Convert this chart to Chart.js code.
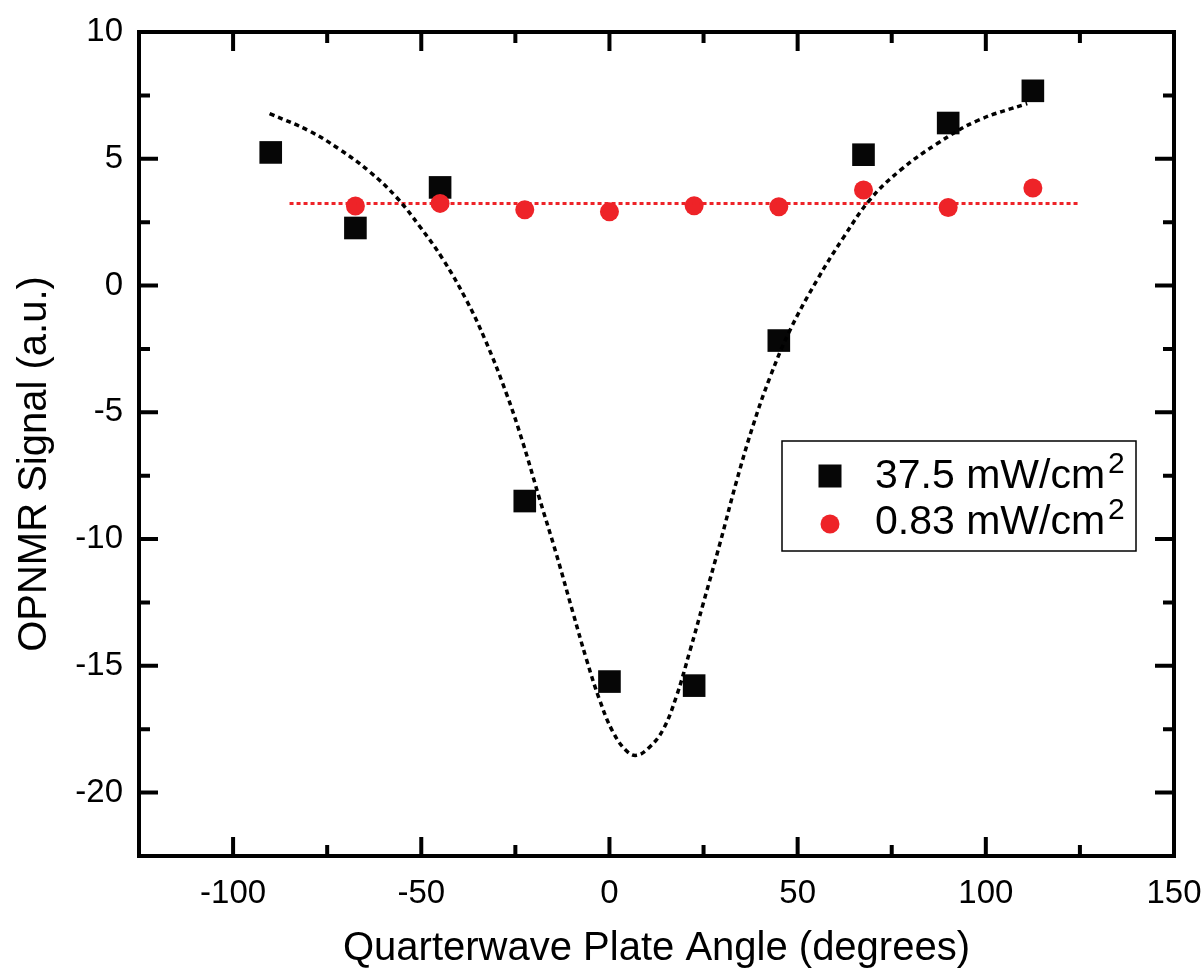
<!DOCTYPE html>
<html>
<head>
<meta charset="utf-8">
<script src="https://cdn.jsdelivr.net/npm/chart.js@4.4.0/dist/chart.umd.min.js"></script>
<style>
  html, body { margin: 0; padding: 0; background: #fff; }
</style>
</head>
<body>
<canvas id="opnmr" width="1203" height="971"></canvas>
<script>
// measured signal, 37.5 mW/cm2 pump
const angles = [-90, -67.5, -45, -22.5, 0, 22.5, 45, 67.5, 90, 112.5];
const signalHigh = [5.25, 2.27, 3.87, -8.5, -15.62, -15.78, -2.17, 5.16, 6.41, 7.68];

// measured signal, 0.83 mW/cm2 pump
const anglesLow = [-67.5, -45, -22.5, 0, 22.5, 45, 67.5, 90, 112.5];
const signalLow = [3.14, 3.24, 2.99, 2.91, 3.15, 3.11, 3.77, 3.08, 3.85];

// fitted curve for the high power data
const fitX = [-90.3, -79.8, -71.8, -63.8, -56.7, -50.5, -44.3, -38.1, -33.0, -27.4, -23.0, -18.6,
  -14.1, -9.7, -6.1, -2.6, 0.9, 4.5, 7.2, 10.7, 14.3, 17.8, 21.4, 24.9, 29.4, 33.8, 38.2, 42.7,
  48.0, 55.1, 62.2, 69.3, 77.3, 87.1, 97.7, 111.0];
const fitY = [6.78, 6.10, 5.38, 4.50, 3.50, 2.35, 1.05, -0.55, -2.15, -4.25, -6.20, -8.40,
  -10.60, -12.90, -14.75, -16.35, -17.60, -18.35, -18.53, -18.20, -17.50, -16.20, -14.40, -12.55, -10.15, -7.70, -5.50, -3.60,
  -1.75, 0.20, 1.90, 3.40, 4.55, 5.60, 6.50, 7.18];

// flat fit for the low power data
const flatX = [-85, 125];
const flatLevel = 3.24;

const xTicks = [-100, -50, 0, 50, 100, 150];
const xMinor = [-75, -25, 25, 75, 125];
const yTicks = [-20, -15, -10, -5, 0, 5, 10];
const yMinor = [-17.5, -12.5, -7.5, -2.5, 2.5, 7.5];

const legendItems = ['37.5 mW/cm', '0.83 mW/cm'];

const FONT = '"Liberation Sans", Arial, Helvetica, sans-serif';
const RED = '#ee2328';
const BLACK = '#060606';

const pts = (xs, ys) => xs.map((x, i) => ({ x: x, y: ys[i] }));

const noPad = s => { s.paddingTop = 0; s.paddingBottom = 0; s.paddingLeft = 0; s.paddingRight = 0; };

// frame with inward ticks on all four sides, axis titles and the boxed legend
const framePlugin = {
  id: 'framePlugin',
  beforeDatasetsDraw(chart) {
    const ctx = chart.ctx;
    const a = chart.chartArea;
    const xs = chart.scales.x, ys = chart.scales.y;
    ctx.save();
    ctx.strokeStyle = '#000';
    ctx.lineWidth = 4;
    ctx.lineCap = 'butt';
    ctx.beginPath();
    ctx.rect(a.left, a.top, a.right - a.left, a.bottom - a.top);
    ctx.stroke();

    const tick = (vals, len, horizontal) => {
      vals.forEach(v => {
        if (horizontal) {
          const px = xs.getPixelForValue(v);
          ctx.moveTo(px, a.bottom); ctx.lineTo(px, a.bottom - len);
          ctx.moveTo(px, a.top); ctx.lineTo(px, a.top + len);
        } else {
          const py = ys.getPixelForValue(v);
          ctx.moveTo(a.left, py); ctx.lineTo(a.left + len, py);
          ctx.moveTo(a.right, py); ctx.lineTo(a.right - len, py);
        }
      });
    };
    ctx.beginPath();
    tick(xTicks.filter(v => v < 150), 19, true);
    tick(xMinor, 11, true);
    tick(yTicks.filter(v => v < 10), 19, false);
    tick(yMinor, 11, false);
    ctx.stroke();
    ctx.restore();
  },
  afterDraw(chart) {
    const ctx = chart.ctx;
    const a = chart.chartArea;
    ctx.save();
    ctx.fillStyle = '#000';
    ctx.font = '40px ' + FONT;

    // axis titles
    ctx.textAlign = 'center';
    ctx.textBaseline = 'alphabetic';
    ctx.fillText('Quarterwave Plate Angle (degrees)', (a.left + a.right) / 2, 960);
    ctx.save();
    ctx.translate(46, 464);
    ctx.rotate(-Math.PI / 2);
    ctx.fillText('OPNMR Signal (a.u.)', 0, 0);
    ctx.restore();

    // legend box
    ctx.strokeStyle = '#000';
    ctx.lineWidth = 1.5;
    ctx.strokeRect(782, 441, 354, 110);

    ctx.fillStyle = BLACK;
    ctx.fillRect(830 - 11.5, 476 - 11.5, 23, 23);
    ctx.fillStyle = RED;
    ctx.beginPath();
    ctx.arc(830, 524, 9.5, 0, Math.PI * 2);
    ctx.fill();

    ctx.fillStyle = '#000';
    ctx.textAlign = 'left';
    const baselines = [488, 534];
    legendItems.forEach((t, i) => {
      ctx.font = '41px ' + FONT;
      ctx.fillText(t, 875, baselines[i]);
      const w = ctx.measureText(t).width;
      ctx.font = '30px ' + FONT;
      ctx.fillText('2', 875 + w + 3, baselines[i] - 15);
    });
    ctx.restore();
  }
};

new Chart(document.getElementById('opnmr'), {
  type: 'scatter',
  data: {
    datasets: [
      {
        label: 'fit',
        type: 'line',
        data: pts(fitX, fitY),
        borderColor: '#000',
        borderWidth: 3.5,
        borderDash: [5, 4],
        pointRadius: 0,
        fill: false,
        tension: 0.4
      },
      {
        label: 'flat fit',
        type: 'line',
        data: pts(flatX, [flatLevel, flatLevel]),
        borderColor: RED,
        borderWidth: 3,
        borderDash: [4, 3],
        pointRadius: 0,
        fill: false
      },
      {
        label: '0.83 mW/cm2',
        data: pts(anglesLow, signalLow),
        pointStyle: 'circle',
        pointRadius: 9.5,
        backgroundColor: RED,
        borderWidth: 0
      },
      {
        label: '37.5 mW/cm2',
        data: pts(angles, signalHigh),
        pointStyle: 'rect',
        pointRadius: 16,
        backgroundColor: BLACK,
        borderWidth: 0
      }
    ]
  },
  options: {
    responsive: false,
    animation: false,
    layout: { padding: { top: 32, right: 29, left: 0, bottom: 0 } },
    plugins: {
      legend: { display: false },
      tooltip: { enabled: false }
    },
    scales: {
      x: {
        type: 'linear',
        min: -125,
        max: 150,
        afterBuildTicks: s => { s.ticks = xTicks.map(v => ({ value: v })); },
        afterFit: s => { s.height = 115; noPad(s); },
        grid: { display: false },
        border: { display: false },
        ticks: { color: '#000', font: { family: FONT, size: 33 }, padding: 10, maxRotation: 0 }
      },
      y: {
        type: 'linear',
        min: -22.5,
        max: 10,
        afterBuildTicks: s => { s.ticks = yTicks.map(v => ({ value: v })); },
        afterFit: s => { s.width = 139; noPad(s); },
        grid: { display: false },
        border: { display: false },
        ticks: { color: '#000', font: { family: FONT, size: 33 }, padding: 8 }
      }
    }
  },
  plugins: [framePlugin]
});
</script>
</body>
</html>
